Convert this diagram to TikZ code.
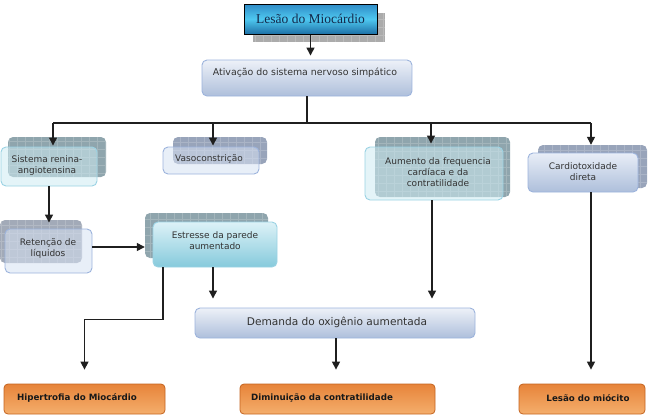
\documentclass[tikz,border=0pt]{standalone}
\usepackage{fontspec}
\setmainfont{DejaVu Sans}
\newfontfamily\titlefont{Liberation Serif}
\usetikzlibrary{arrows.meta,calc}
\definecolor{txtgray}{HTML}{333333}
\definecolor{navy}{HTML}{14284A}
\definecolor{shgray}{HTML}{ABABAB}
\definecolor{shteal}{HTML}{8FA5AD}
\definecolor{shblue}{HTML}{98A4BA}
\definecolor{shret}{HTML}{A2AAB8}
\definecolor{cyanfill}{HTML}{CDEBF2}
\definecolor{cyanedge}{HTML}{9AD2E3}
\definecolor{bluefill}{HTML}{D6E1F2}
\definecolor{blueedge}{HTML}{9CB3DC}
\definecolor{tTop}{HTML}{2F8BC6}
\definecolor{tMid}{HTML}{4EC8F0}
\definecolor{tBot}{HTML}{1E70A6}
\definecolor{gTop}{HTML}{EDF1F8}
\definecolor{gBot}{HTML}{AEBFDB}
\definecolor{cTop}{HTML}{DDF2F7}
\definecolor{cBot}{HTML}{86CADC}
\definecolor{orTop}{HTML}{E7843A}
\definecolor{orBot}{HTML}{F4AE6C}
\definecolor{orEdge}{HTML}{C46420}
\begin{document}
\begin{tikzpicture}[x=1pt,y=-1pt,
  shadowbox/.style={rounded corners=5pt, fill=#1, draw=none, inner sep=0pt,
    path picture={\draw[white,opacity=0.18,line width=0.4pt,step=8pt]
      (path picture bounding box.south west) grid (path picture bounding box.north east);}},
  fronttr/.style={rounded corners=5pt, inner sep=0pt, fill=#1fill, fill opacity=0.55,
    draw=#1edge, line width=0.9pt, draw opacity=1},
  frontop/.style={rounded corners=5pt, inner sep=0pt, draw=#1, line width=0.9pt},
  lbl/.style={font=\fontsize{9}{11}\selectfont, text=txtgray, align=center, inner sep=0pt},
  outbox/.style={rounded corners=4pt, inner sep=0pt, draw=orEdge, line width=0.8pt,
    top color=orTop, bottom color=orBot, minimum width=#1, minimum height=30pt},
  outlbl/.style={font=\bfseries\fontsize{8.7}{10}\selectfont, text=black!90, inner sep=0pt},
  conn/.style={line width=1.3pt, draw=black!88},
  arr/.style={conn, -{Triangle[length=8pt,width=8pt]}}
]
\useasboundingbox (0,0) rectangle (648,416);

% ---------- title
\node[shadowbox=shgray, rounded corners=0pt, minimum width=132pt, minimum height=29pt] (titlesh) at (319,27.5) {};
\node[draw=black, line width=1pt, inner sep=0pt, minimum width=133pt, minimum height=30pt,
  top color=tTop, bottom color=tBot, middle color=tMid,
  font=\titlefont\fontsize{13.5}{15}\selectfont, text=navy] (title) at (310.5,19) {Lesão do Miocárdio};

% ---------- activation
\node[frontop=blueedge, top color=gTop, bottom color=gBot, minimum width=210pt, minimum height=36pt] (ativ) at (307,78) {};
\node[lbl, font=\fontsize{9.4}{11}\selectfont] (ativT) at (305,73) {Ativação do sistema nervoso simpático};

% ---------- second row
\node[shadowbox=shteal, minimum width=98pt, minimum height=40pt] (srash) at (57,157) {};
\node[fronttr=cyan, minimum width=96pt, minimum height=39pt] (sra) at (49,166.5) {};
\node[lbl] (sraT) at (47,166) {Sistema renina-\\angiotensina};

\node[shadowbox=shblue, minimum width=94pt, minimum height=27pt] (vasosh) at (220,150.5) {};
\node[fronttr=blue, minimum width=96pt, minimum height=27pt] (vaso) at (211,160.5) {};
\node[lbl] (vasoT) at (209,159) {Vasoconstrição};

\node[shadowbox=shteal, minimum width=135pt, minimum height=60pt] (aumsh) at (442.5,167) {};
\node[fronttr=cyan, minimum width=138pt, minimum height=53pt] (aum) at (434,173.5) {};
\node[lbl] (aumT) at (438,172) {Aumento da frequencia\\cardíaca e da\\contratilidade};

\node[shadowbox=shblue, minimum width=109pt, minimum height=43pt] (cardsh) at (592.5,166.5) {};
\node[frontop=blueedge, top color=gTop!80!bluefill, bottom color=gBot, minimum width=110pt, minimum height=39pt] (card) at (583,172.5) {};
\node[lbl] (cardT) at (583,172) {Cardiotoxidade\\direta};

% ---------- third row
\node[shadowbox=shret, minimum width=82pt, minimum height=43pt] (retsh) at (41,241.5) {};
\node[fronttr=blue, minimum width=87pt, minimum height=44pt] (ret) at (48.5,251) {};
\node[lbl] (retT) at (48,248.5) {Retenção de\\líquidos};

\node[shadowbox=shteal, minimum width=123pt, minimum height=45pt] (estsh) at (206.5,235.5) {};
\node[frontop=cyanedge, top color=cTop, bottom color=cBot, minimum width=124pt, minimum height=45pt] (est) at (215,244.5) {};
\node[lbl] (estT) at (215,241) {Estresse da parede\\aumentado};

% ---------- demand
\node[frontop=blueedge, top color=gTop, bottom color=gBot, minimum width=280pt, minimum height=30pt] (dem) at (335,323) {};
\node[lbl, font=\fontsize{10.6}{12}\selectfont] (demT) at (337,322) {Demanda do oxigênio aumentada};

% ---------- outcomes
\node[outbox=161pt] (hip) at (84.5,399) {};
\node[outlbl] (hipT) at (77,398) {Hipertrofia do Miocárdio};
\node[outbox=195pt] (dim) at (337.5,399) {};
\node[outlbl] (dimT) at (322,398) {Diminuição da contratilidade};
\node[outbox=126pt] (les) at (582,399) {};
\node[outlbl] (lesT) at (588,398) {Lesão do miócito};

% ---------- connectors
\coordinate (b1) at (53,123);
\coordinate (b2) at (213,123);
\coordinate (b3) at (431,123);
\coordinate (b4) at (591,123);

\draw[arr, shorten >=4pt] (title.south) -- (title.south |- ativ.north);
\draw[conn] (ativ.south -| 307,0) -- (307,123);
\draw[conn] (b1) -- (b4);
\draw[arr, shorten >=1pt] (b1) -- (b1 |- sra.north);
\draw[arr, shorten >=1pt] (b2) -- (b2 |- vaso.north);
\draw[arr, shorten >=3pt] (b3) -- (b3 |- aum.north);
\draw[arr] (b4) -- (b4 |- cardsh.north);

\draw[arr, shorten >=6pt] (sra.south) -- (sra.south |- ret.north);
\draw[arr] ([yshift=4pt]ret.east) -- ([yshift=4pt]ret.east -| estsh.west);

\draw[arr, shorten >=14pt] ([xshift=-52pt]est.south) |- ([yshift=64pt]hip.north) -- (hip.north);
\draw[arr, shorten >=9pt] ([xshift=-2pt]est.south) -- ([xshift=-2pt]est.south |- dem.north);
\draw[arr, shorten >=9pt] ([xshift=-2pt]aum.south) -- ([xshift=-2pt]aum.south |- dem.north);
\draw[arr, shorten >=14pt] ([xshift=1pt]dem.south) -- ([xshift=1pt]dem.south |- dim.north);
\draw[arr, shorten >=14pt] (b4 |- card.south) -- (b4 |- les.north);
\end{tikzpicture}
\end{document}
